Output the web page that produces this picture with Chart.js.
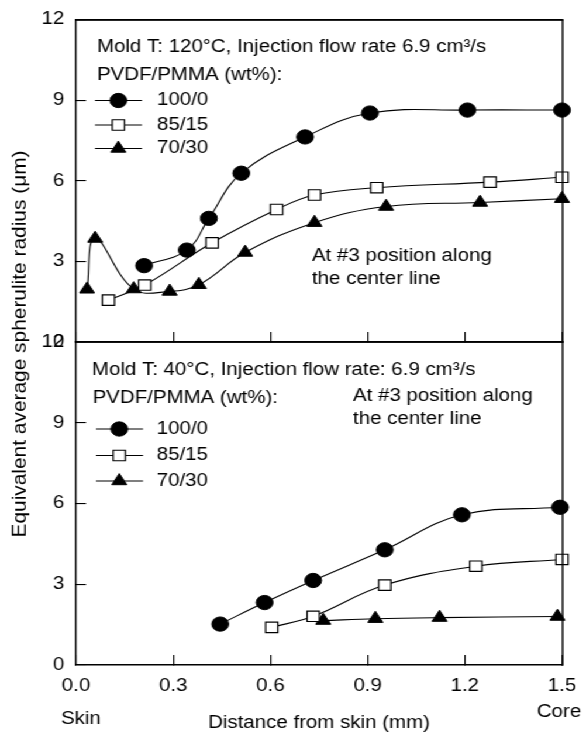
<!DOCTYPE html>
<html><head><meta charset="utf-8">
<script src="https://cdn.jsdelivr.net/npm/chart.js@4/dist/chart.umd.min.js"></script>
<style>
html,body{margin:0;padding:0;background:#fff;overflow:hidden;width:586px;height:733px}
#wrap{position:absolute;left:0;top:0;width:501px;height:733px;transform:scale(1.16966,1);transform-origin:0 0}
#wrap canvas{position:absolute;left:0;top:0}
</style></head><body>
<div id="wrap"><canvas id="c1" width="501" height="733"></canvas><canvas id="c2" width="501" height="733"></canvas></div>
<script>
// ---- data ----
const seriesLabels = ['100/0', '85/15', '70/30'];
const xTicks = [0.0, 0.3, 0.6, 0.9, 1.2, 1.5];
const yTicks = [0, 3, 6, 9, 12];

// Top panel: Mold T 120 °C
const xTop100 = [0.21, 0.342, 0.41, 0.51, 0.707, 0.907, 1.208, 1.5];
const yTop100 = [2.84, 3.42, 4.6, 6.28, 7.63, 8.52, 8.63, 8.63];
const xTop85  = [0.10, 0.212, 0.42, 0.619, 0.736, 0.928, 1.278, 1.5];
const yTop85  = [1.56, 2.12, 3.69, 4.93, 5.47, 5.74, 5.95, 6.13];
const xTop70  = [0.034, 0.059, 0.178, 0.289, 0.379, 0.522, 0.736, 0.957, 1.247, 1.5];
const yTop70  = [1.96, 3.85, 1.97, 1.88, 2.13, 3.33, 4.44, 5.04, 5.19, 5.33];

// Bottom panel: Mold T 40 °C
const xBot100 = [0.445, 0.582, 0.732, 0.953, 1.191, 1.494];
const yBot100 = [1.52, 2.32, 3.14, 4.28, 5.58, 5.86];
const xBot85  = [0.604, 0.732, 0.953, 1.234, 1.5];
const yBot85  = [1.40, 1.81, 2.97, 3.67, 3.92];
const xBot70  = [0.763, 0.924, 1.122, 1.486];
const yBot70  = [1.65, 1.72, 1.76, 1.80];

// ---- helpers ----
const FONT = '"Liberation Sans", Arial, Helvetica, sans-serif';
const pts = (xs, ys) => xs.map((x, i) => ({x, y: ys[i]}));
const styles = [
  {pointStyle: 'circle', pointRadius: 7.15, pointBackgroundColor: '#000', pointBorderColor: '#000', pointBorderWidth: 1},
  {pointStyle: 'rect', pointRadius: 7.4, pointBackgroundColor: '#fff', pointBorderColor: '#000', pointBorderWidth: 1.2},
  {pointStyle: 'triangle', pointRadius: 7.4, pointBackgroundColor: '#000', pointBorderColor: '#000', pointBorderWidth: 1}
];
function mkDs(data, i) {
  return Object.assign({
    label: seriesLabels[i], data, xAxisID: 'x', yAxisID: 'y',
    borderColor: '#000', borderWidth: 1.1,
    tension: 0.4, clip: false, fill: false, pointHoverRadius: styles[i].pointRadius
  }, styles[i]);
}
function txt(ctx, s, x, y, align, size) {
  ctx.save();
  ctx.font = (size || 17.5) + 'px ' + FONT;
  ctx.fillStyle = '#000';
  ctx.textAlign = align || 'left';
  ctx.textBaseline = 'middle';
  ctx.fillText(s, x, y);
  ctx.restore();
}
function drawLegend(ctx, chart, x0, x1, xm, xt, rows) {
  rows.forEach((y, i) => {
    const d = chart.data.datasets[i];
    ctx.save();
    ctx.strokeStyle = '#000'; ctx.lineWidth = 1.1;
    ctx.beginPath(); ctx.moveTo(x0, y); ctx.lineTo(x1, y); ctx.stroke();
    ctx.fillStyle = d.pointBackgroundColor; ctx.strokeStyle = d.pointBorderColor; ctx.lineWidth = d.pointBorderWidth;
    Chart.helpers.drawPoint(ctx, {pointStyle: d.pointStyle, radius: d.pointRadius, rotation: 0, borderWidth: d.pointBorderWidth}, xm, y);
    ctx.restore();
    txt(ctx, seriesLabels[i], xt, y);
  });
}
// right and top frame edges (left/bottom come from the axes' own borders)
function frameEdges(chart) {
  const ctx = chart.ctx, xs = chart.scales.x, ys = chart.scales.y;
  const L = Math.round(xs.getPixelForValue(xTicks[0]));
  const R = Math.round(xs.getPixelForValue(xTicks[xTicks.length - 1]));
  const B = Math.round(ys.getPixelForValue(yTicks[0]));
  const T = Math.round(ys.getPixelForValue(yTicks[yTicks.length - 1]));
  ctx.save();
  ctx.fillStyle = '#000';
  ctx.fillRect(R - 0.7, T - 0.7, 1.4, B - T + 1.4);
  ctx.fillRect(L - 0.7, T - 0.7, R - L + 1.4, 1.4);
  ctx.restore();
}
const noPadH = (s, h) => { s.height = h; s.paddingLeft = 0; s.paddingRight = 0; };

const BORDER = {display: true, color: '#000', width: 1.4};
function baseOptions(pad, showXLabels) {
  return {
    responsive: false, animation: false, events: [],
    layout: {padding: pad},
    plugins: {legend: {display: false}, tooltip: {enabled: false}, title: {display: false}},
    scales: {
      x: {
        type: 'linear', position: 'bottom', min: xTicks[0], max: xTicks[xTicks.length - 1],
        grid: {display: true, drawOnChartArea: false, drawTicks: true, tickLength: -10, color: '#000', lineWidth: 1.1},
        border: BORDER,
        ticks: {display: showXLabels, stepSize: 0.3, padding: 21, color: '#000', font: {family: FONT, size: 17.5},
                callback: v => Number(v).toFixed(1), maxRotation: 0, autoSkip: false},
        afterFit: s => noPadH(s, showXLabels ? 68 : 0)
      },
      x2: {
        type: 'linear', position: 'top', min: xTicks[0], max: xTicks[xTicks.length - 1],
        grid: {display: false, drawTicks: false}, border: BORDER,
        ticks: {display: false},
        afterFit: s => noPadH(s, 0)
      },
      y: {
        type: 'linear', position: 'left', min: yTicks[0], max: yTicks[yTicks.length - 1],
        grid: {display: true, drawOnChartArea: false, drawTicks: true, tickLength: -8.5, color: '#000', lineWidth: 1.1},
        border: BORDER,
        ticks: {stepSize: 3, padding: 18.5, color: '#000', font: {family: FONT, size: 17.5}},
        afterFit: s => { s.width = 65; s.paddingTop = 0; s.paddingBottom = 0; }
      }
    }
  };
}

// ---- top chart ----
new Chart(document.getElementById('c1'), {
  type: 'line',
  data: {datasets: [mkDs(pts(xTop100, yTop100), 0), mkDs(pts(xTop85, yTop85), 1), mkDs(pts(xTop70, yTop70), 2)]},
  options: baseOptions({top: 19.5, bottom: 391, left: 0, right: 20.5}, false),
  plugins: [{
    id: 'topDeco',
    afterDraw(chart) {
      const ctx = chart.ctx;
      frameEdges(chart);
      txt(ctx, 'Mold T: 120\u00B0C, Injection flow rate 6.9 cm\u00B3/s', 82.9, 47);
      txt(ctx, 'PVDF/PMMA (wt%):', 82.9, 75);
      drawLegend(ctx, chart, 81.2, 121.4, 101.2, 134.2, [100.5, 125, 148.5]);
      txt(ctx, 'At #3 position along', 266.7, 256);
      txt(ctx, 'the center line', 266.7, 279);
      ctx.save();
      ctx.translate(17.1, 344);
      ctx.rotate(-Math.PI / 2);
      ctx.scale(1.266, 1);
      ctx.font = '16.5px ' + FONT;
      ctx.fillStyle = '#000';
      ctx.textAlign = 'center';
      ctx.textBaseline = 'middle';
      ctx.fillText('Equivalent average spherulite radius (\u03BCm)', 0, 0);
      ctx.restore();
    }
  }]
});

// ---- bottom chart ----
new Chart(document.getElementById('c2'), {
  type: 'line',
  data: {datasets: [mkDs(pts(xBot100, yBot100), 0), mkDs(pts(xBot85, yBot85), 1), mkDs(pts(xBot70, yBot70), 2)]},
  options: baseOptions({top: 342, bottom: 0, left: 0, right: 20.5}, true),
  plugins: [{
    id: 'botDeco',
    afterDraw(chart) {
      const ctx = chart.ctx;
      frameEdges(chart);
      txt(ctx, 'Mold T: 40\u00B0C, Injection flow rate: 6.9 cm\u00B3/s', 78.6, 370);
      txt(ctx, 'PVDF/PMMA (wt%):', 79.2, 398);
      drawLegend(ctx, chart, 82.1, 122.3, 102, 134, [429, 455.5, 481]);
      txt(ctx, 'At #3 position along', 301.8, 396);
      txt(ctx, 'the center line', 301.8, 419);
      txt(ctx, 'Distance from skin (mm)', (chart.scales.x.left + chart.scales.x.right) / 2, 723, 'center');
      txt(ctx, 'Skin', 69.2, 719, 'center');
      txt(ctx, 'Core', 477.9, 712, 'center');
    }
  }]
});
</script>
</body></html>
